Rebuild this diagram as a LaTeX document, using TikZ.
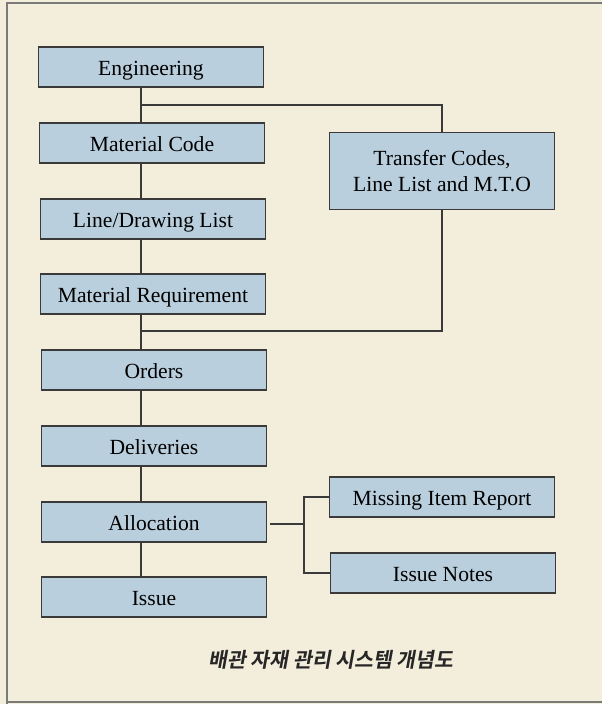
\documentclass[tikz,border=0pt]{standalone}
\usepackage{fontspec}
\setmainfont{Liberation Serif}
\newfontfamily\cjkcap[FakeSlant=0.18]{Noto Sans CJK KR Bold}
\usepackage{tikz}
\usetikzlibrary{positioning,calc}
\definecolor{paper}{HTML}{F3EDDC}
\definecolor{boxblue}{HTML}{BACFDD}
\definecolor{edge}{HTML}{3A3A3A}
\definecolor{frameline}{HTML}{7A7A78}

\begin{document}
\begin{tikzpicture}[
  x=1pt, y=-1pt,
  font=\fontsize{21.6}{26.5}\selectfont,
  boxbase/.style={draw=edge, line width=1.2pt, fill=boxblue, align=center, inner sep=0pt, minimum width=225pt, minimum height=40pt},
  blk/.style={boxbase, text height=19pt, text depth=2pt},
  lnk/.style={draw=edge, line width=1.1pt},
  captxt/.style={font=\cjkcap\fontsize{20.5}{24}\selectfont, text=black!85},
]
  \fill[paper] (0,0) rectangle (602,704);
  \useasboundingbox (0,0) rectangle (602,704);
  \draw[frameline, line width=1.6pt] (7,704) -- (7,3) -- (602,3);
  \draw[frameline, line width=1.6pt] (7,702) -- (602,702);

  % main column
  \node[blk] (eng)      at (151,67)  {Engineering};
  \node[blk] (matcode)  at (152,143) {Material Code};
  \node[blk] (linelist) at (153,219) {Line/Drawing List};
  \node[blk] (matreq)   at (153,294) {Material Requirement};
  \node[blk] (orders)   at (154,370) {Orders};
  \node[blk] (deliv)    at (154,446) {Deliveries};
  \node[blk] (alloc)    at (154,522) {Allocation};
  \node[blk] (issue)    at (154,597) {Issue};

  % side boxes
  \node[boxbase, minimum height=77pt] (transfer) at (442,171) {Transfer Codes,\\Line List and M.T.O};
  \node[blk] (missing) at (442,497) {Missing Item Report};
  \node[blk] (notes)   at (443,573) {Issue Notes};

  \coordinate (spine) at (141,0);
  \coordinate (jtop)  at (141,105);
  \coordinate (jbot)  at (141,331);
  \coordinate (fork)  at (304,524);

  \draw[lnk] (eng.south -| spine) -- (matcode.north -| spine);
  \draw[lnk] (matcode.south -| spine) -- (linelist.north -| spine);
  \draw[lnk] (linelist.south -| spine) -- (matreq.north -| spine);
  \draw[lnk] (matreq.south -| spine) -- (orders.north -| spine);
  \draw[lnk] (orders.south -| spine) -- (deliv.north -| spine);
  \draw[lnk] (deliv.south -| spine) -- (alloc.north -| spine);
  \draw[lnk] (alloc.south -| spine) -- (issue.north -| spine);

  \draw[lnk] (jtop) -| (transfer.north);
  \draw[lnk] (transfer.south) |- (jbot);

  \draw[lnk] ([xshift=3pt]alloc.east |- fork) -- (fork);
  \draw[lnk] (missing.west) -| (fork) |- (notes.west);

  \node[captxt] (caption) at (331,660) {배관 자재 관리 시스템 개념도};
\end{tikzpicture}
\end{document}
